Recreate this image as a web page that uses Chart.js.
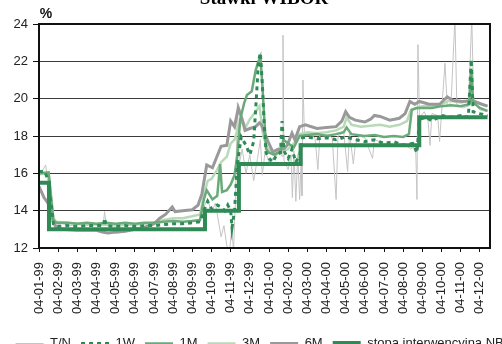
<!DOCTYPE html>
<html>
<head>
<meta charset="utf-8">
<script src="https://cdn.jsdelivr.net/npm/chart.js@4.4.0/dist/chart.umd.min.js"></script>
<style>
    html, body { margin: 0; padding: 0; background: #fff; overflow: hidden; width: 502px; height: 344px; }
    #wrap { position: absolute; left: 0; top: -14px; }
</style>
</head>
<body>
<div id="wrap"><canvas id="wiborChart" width="528" height="374"></canvas></div>
<script>
// month ticks, x = months since 04-01-99
const months = ['04-01-99', '04-02-99', '04-03-99', '04-04-99', '04-05-99', '04-06-99',
    '04-07-99', '04-08-99', '04-09-99', '04-10-99', '04-11-99', '04-12-99',
    '04-01-00', '04-02-00', '04-03-00', '04-04-00', '04-05-00', '04-06-00',
    '04-07-00', '04-08-00', '04-09-00', '04-10-00', '04-11-00', '04-12-00'];

const yTicks = [12, 14, 16, 18, 20, 22, 24];

// [month, rate %]
const tn = [[0, 16.0], [0.15, 16.1], [0.35, 16.45], [0.45, 15.6], [0.6, 14.0], [0.8, 13.2], [1.2, 13.3],
    [1.6, 13.2], [2.0, 13.25], [2.5, 13.2], [3.0, 13.3], [3.35, 13.25], [3.42, 13.95], [3.5, 13.3],
    [4.0, 13.2], [4.5, 13.3], [5.0, 13.2], [5.5, 13.3], [6.0, 13.25], [6.5, 13.4], [7.0, 13.5],
    [7.5, 13.4], [8.0, 13.5], [8.4, 13.4], [8.6, 14.2], [8.8, 14.6], [9.0, 13.9], [9.2, 14.4],
    [9.35, 13.5], [9.5, 12.6], [9.65, 13.2], [9.8, 12.1], [9.95, 11.9], [10.05, 13.0], [10.15, 11.9],
    [10.25, 14.6], [10.35, 19.8], [10.45, 16.5], [10.6, 17.3], [10.8, 16.0], [11.0, 17.0], [11.2, 15.6],
    [11.4, 16.8], [11.55, 17.8], [11.65, 15.9], [11.8, 17.2], [12.0, 16.6], [12.3, 16.9], [12.6, 17.1],
    [12.68, 16.9], [12.73, 23.4], [12.78, 16.7], [13.0, 16.2], [13.15, 17.0], [13.22, 14.7], [13.3, 17.2],
    [13.4, 14.5], [13.5, 17.0], [13.6, 14.6], [13.68, 16.8], [13.72, 14.8], [13.77, 21.0], [13.85, 18.0],
    [14.1, 18.1], [14.4, 17.9], [14.55, 16.2], [14.65, 18.0], [15.0, 18.1], [15.3, 17.9], [15.5, 14.6],
    [15.6, 18.0], [15.9, 18.2], [16.1, 16.1], [16.2, 18.2], [16.4, 16.5], [16.5, 17.5], [16.7, 18.0],
    [17.0, 17.9], [17.4, 16.8], [17.5, 17.8], [18.0, 17.6], [18.5, 17.5], [19.0, 17.6], [19.4, 17.3],
    [19.65, 17.5], [19.72, 14.6], [19.77, 22.9], [19.85, 19.0], [20.1, 19.3], [20.3, 18.8], [20.4, 17.5],
    [20.5, 19.2], [20.8, 19.1], [20.9, 17.7], [21.0, 19.2], [21.18, 21.9], [21.3, 19.6], [21.5, 19.8],
    [21.7, 24.3], [21.8, 19.7], [22.1, 19.5], [22.4, 19.6], [22.58, 24.3], [22.68, 19.8], [23.0, 19.4],
    [23.4, 19.3]];

const w1 = [[0, 16.1], [0.3, 16.1], [0.45, 15.7], [0.55, 15.0], [0.65, 14.2], [0.75, 13.3], [0.9, 13.15],
    [1.5, 13.2], [2.0, 13.15], [2.5, 13.2], [3.0, 13.2], [3.38, 13.2], [3.42, 13.6], [3.5, 13.2],
    [4.0, 13.15], [4.5, 13.2], [5.0, 13.15], [5.5, 13.2], [6.0, 13.2], [6.5, 13.25], [7.0, 13.3],
    [7.5, 13.3], [8.0, 13.35], [8.4, 13.4], [8.6, 14.0], [8.8, 14.5], [9.0, 14.1], [9.3, 14.3],
    [9.5, 14.2], [9.7, 14.0], [9.85, 14.3], [10.0, 14.0], [10.07, 13.1], [10.2, 14.0], [10.35, 16.5],
    [10.55, 17.95], [10.8, 17.5], [11.0, 17.0], [11.2, 17.7], [11.35, 20.2], [11.45, 22.0], [11.55, 22.45],
    [11.65, 20.8], [11.75, 18.6], [11.85, 17.1], [12.0, 16.8], [12.2, 16.6], [12.4, 17.0], [12.6, 17.1],
    [12.68, 18.8], [12.78, 17.2], [13.0, 16.8], [13.2, 17.3], [13.4, 16.6], [13.6, 17.0], [13.75, 17.9],
    [14.0, 17.95], [14.5, 17.85], [15.0, 17.9], [15.5, 17.8], [16.0, 17.95], [16.5, 17.8], [17.0, 17.7],
    [17.5, 17.8], [18.0, 17.6], [18.5, 17.7], [19.0, 17.5], [19.5, 17.6], [19.72, 17.1], [19.85, 18.9],
    [20.2, 19.0], [20.5, 18.8], [21.0, 19.1], [21.5, 19.0], [22.0, 19.1], [22.4, 19.0], [22.55, 22.1],
    [22.65, 19.3], [23.0, 19.2], [23.4, 19.1]];

const m1 = [[0, 16.0], [0.5, 16.05], [0.6, 15.0], [0.75, 13.5], [0.9, 13.35], [1.5, 13.35], [2.0, 13.3],
    [2.5, 13.35], [3.0, 13.3], [3.5, 13.35], [4.0, 13.3], [4.5, 13.35], [5.0, 13.3], [5.5, 13.35],
    [6.0, 13.35], [6.5, 13.4], [7.0, 13.45], [7.5, 13.4], [8.0, 13.45], [8.4, 13.5], [8.6, 14.6],
    [8.75, 15.1], [9.05, 14.6], [9.3, 14.8], [9.45, 16.5], [9.55, 15.0], [9.8, 15.1], [10.0, 15.4],
    [10.2, 15.9], [10.35, 17.0], [10.5, 18.9], [10.7, 19.75], [10.85, 20.2], [11.1, 20.4], [11.3, 21.5],
    [11.45, 22.0], [11.55, 22.25], [11.65, 20.8], [11.75, 19.0], [11.85, 17.3], [12.0, 17.1], [12.3, 17.0],
    [12.6, 17.2], [12.75, 17.8], [13.0, 17.6], [13.3, 17.4], [13.6, 18.0], [14.0, 18.05], [14.5, 18.1],
    [15.0, 18.0], [15.5, 18.1], [15.9, 18.2], [16.05, 18.45], [16.3, 18.1], [17.0, 18.0], [17.5, 18.05],
    [18.0, 17.95], [18.5, 18.0], [19.0, 17.95], [19.3, 18.1], [19.45, 19.4], [19.7, 19.5], [20.0, 19.5],
    [20.5, 19.5], [21.0, 19.6], [21.5, 19.65], [22.0, 19.6], [22.45, 19.7], [22.55, 21.6], [22.65, 19.8],
    [23.0, 19.5], [23.4, 19.35]];

const m3 = [[0, 15.95], [0.5, 16.0], [0.6, 15.2], [0.75, 13.6], [0.9, 13.4], [1.5, 13.35], [2.0, 13.3],
    [2.5, 13.3], [3.0, 13.25], [3.5, 13.25], [4.0, 13.2], [4.5, 13.25], [5.0, 13.25], [5.5, 13.3],
    [6.0, 13.35], [6.5, 13.5], [7.0, 13.6], [7.5, 13.6], [8.0, 13.7], [8.4, 13.8], [8.6, 14.8],
    [8.8, 15.6], [9.0, 15.7], [9.3, 16.2], [9.5, 16.6], [9.8, 16.9], [10.0, 17.6], [10.2, 17.8],
    [10.4, 18.5], [10.6, 18.8], [10.8, 18.5], [11.0, 18.9], [11.3, 19.3], [11.5, 19.6], [11.7, 18.0],
    [11.9, 17.4], [12.2, 17.0], [12.5, 17.1], [12.8, 17.2], [13.0, 17.3], [13.3, 17.6], [13.6, 18.1],
    [14.0, 18.2], [14.5, 18.15], [15.0, 18.2], [15.5, 18.3], [15.9, 18.5], [16.05, 19.0], [16.3, 18.6],
    [16.8, 18.5], [17.3, 18.55], [17.8, 18.6], [18.3, 18.5], [18.8, 18.6], [19.2, 18.8], [19.4, 19.4],
    [19.7, 19.5], [20.0, 19.6], [20.5, 19.6], [21.0, 19.7], [21.4, 19.9], [22.0, 19.8], [22.6, 19.9],
    [23.0, 19.75], [23.4, 19.6]];

const m6 = [[0, 15.3], [0.26, 14.7], [0.47, 14.4], [0.68, 13.6], [0.89, 13.1], [1.2, 13.0], [2.0, 12.95],
    [3.0, 12.95], [3.3, 12.85], [3.6, 12.8], [4.0, 12.85], [4.5, 12.9], [5.0, 13.0], [5.5, 13.1],
    [6.0, 13.3], [6.3, 13.6], [6.6, 13.8], [6.95, 14.2], [7.1, 13.95], [7.5, 14.0], [8.0, 14.05],
    [8.3, 14.3], [8.5, 14.9], [8.75, 16.45], [9.05, 16.3], [9.4, 17.2], [9.5, 17.45], [9.8, 17.5],
    [10.0, 18.8], [10.2, 18.5], [10.4, 19.5], [10.6, 18.9], [10.75, 18.3], [11.0, 18.4], [11.3, 18.5],
    [11.5, 18.7], [11.6, 18.6], [11.95, 17.7], [12.2, 17.15], [12.5, 17.3], [12.75, 17.3], [12.95, 17.5],
    [13.2, 18.15], [13.35, 17.8], [13.6, 18.5], [13.9, 18.6], [14.5, 18.4], [15.0, 18.45], [15.5, 18.5],
    [15.8, 18.8], [16.0, 19.3], [16.2, 19.0], [16.5, 18.85], [17.0, 18.75], [17.3, 18.9], [17.5, 19.1],
    [17.8, 19.05], [18.3, 18.85], [18.8, 18.95], [19.1, 19.2], [19.35, 19.85], [19.6, 19.7], [19.85, 19.85],
    [20.35, 19.7], [20.9, 19.7], [21.3, 20.1], [21.6, 19.9], [22.1, 19.85], [22.6, 19.9], [23.1, 19.7],
    [23.4, 19.6]];

// intervention rate, each value holds until the next change
const nbp = [[0, 15.5], [0.52, 13.0], [8.66, 14.0], [10.43, 16.5], [13.65, 17.5], [19.84, 19.0], [23.4, 19.0]];

const chartTitle = 'Stawki WIBOR';

function toPoints(arr) {
    return arr.map(p => ({x: p[0], y: p[1]}));
}

const fontFamily = '"Liberation Sans", Arial, sans-serif';

// title, frame round the plot and the "%" unit above the axis
const framePlugin = {
    id: 'frame',
    afterDraw: function (chart) {
        const ctx = chart.ctx;
        const a = chart.chartArea;
        ctx.save();
        ctx.strokeStyle = '#111';
        ctx.lineWidth = 2;
        ctx.strokeRect(a.left, a.top, a.right - a.left, a.bottom - a.top);

        ctx.fillStyle = '#111';
        ctx.font = 'bold 14px ' + fontFamily;
        ctx.textAlign = 'center';
        ctx.textBaseline = 'middle';
        ctx.fillText('%', a.left + 7, a.top - 10);

        ctx.fillStyle = '#000';
        ctx.font = 'bold 19px "Liberation Serif", "Times New Roman", serif';
        ctx.textBaseline = 'alphabetic';
        ctx.fillText(chartTitle, chart.width / 2, 18);
        ctx.restore();
    }
};

const ctx = document.getElementById('wiborChart').getContext('2d');

new Chart(ctx, {
    type: 'line',
    data: {
        datasets: [
            {label: 'T/N', data: toPoints(tn), borderColor: '#c4c4c4', borderWidth: 1, order: 6},
            {label: '1W', data: toPoints(w1), borderColor: '#2e8b57', borderWidth: 3, borderDash: [4, 4], order: 2},
            {label: '1M', data: toPoints(m1), borderColor: '#6aaa78', borderWidth: 2.5, order: 3},
            {label: '3M', data: toPoints(m3), borderColor: '#b8dab8', borderWidth: 2.5, order: 5},
            {label: '6M', data: toPoints(m6), borderColor: '#999999', borderWidth: 3, order: 4},
            {label: 'stopa interwencyjna NBP', data: toPoints(nbp), borderColor: '#2f8a55', borderWidth: 4, stepped: true, order: 1}
        ]
    },
    options: {
        responsive: false,
        animation: false,
        clip: 0,
        elements: {
            point: {radius: 0},
            line: {tension: 0, fill: false}
        },
        layout: {padding: {top: 38}},
        scales: {
            x: {
                type: 'linear',
                min: 0,
                max: 23.53,
                grid: {drawOnChartArea: false, tickLength: 4, tickColor: '#111', tickWidth: 1},
                border: {display: false},
                ticks: {
                    stepSize: 1,
                    autoSkip: false,
                    includeBounds: false,
                    minRotation: 90,
                    maxRotation: 90,
                    padding: 10,
                    color: '#222',
                    font: {family: fontFamily, size: 13},
                    callback: function (value) {
                        return months[value] ?? '';
                    }
                },
                afterFit: function (scale) {
                    scale.height = 79;
                }
            },
            y: {
                min: yTicks[0],
                max: yTicks[yTicks.length - 1],
                grid: {color: '#3c3c3c', lineWidth: 1, tickLength: 6, tickColor: '#111'},
                border: {display: false},
                ticks: {
                    stepSize: 2,
                    padding: 5,
                    color: '#222',
                    font: {family: fontFamily, size: 13}
                },
                afterFit: function (scale) {
                    scale.width = 39;
                }
            },
            yRight: {
                position: 'right',
                grid: {display: false},
                border: {display: false},
                ticks: {display: false},
                afterFit: function (scale) {
                    scale.width = 38;
                }
            }
        },
        plugins: {
            title: {display: false},
            legend: {
                position: 'bottom',
                labels: {
                    usePointStyle: true,
                    pointStyle: 'line',
                    pointStyleWidth: 28,
                    padding: 10,
                    color: '#222',
                    font: {family: fontFamily, size: 13},
                    sort: function (a, b) {
                        return a.datasetIndex - b.datasetIndex;
                    },
                    // take dash and width from the line itself, not from its points
                    generateLabels: function (chart) {
                        const items = Chart.defaults.plugins.legend.labels.generateLabels(chart);
                        items.forEach(item => {
                            const ds = chart.data.datasets[item.datasetIndex];
                            item.strokeStyle = ds.borderColor;
                            item.lineWidth = ds.borderWidth + (ds.stepped ? 1 : 0);
                            item.lineDash = ds.borderDash || [];
                        });
                        return items;
                    }
                }
            },
            tooltip: {enabled: false}
        }
    },
    plugins: [framePlugin]
});
</script>
</body>
</html>
